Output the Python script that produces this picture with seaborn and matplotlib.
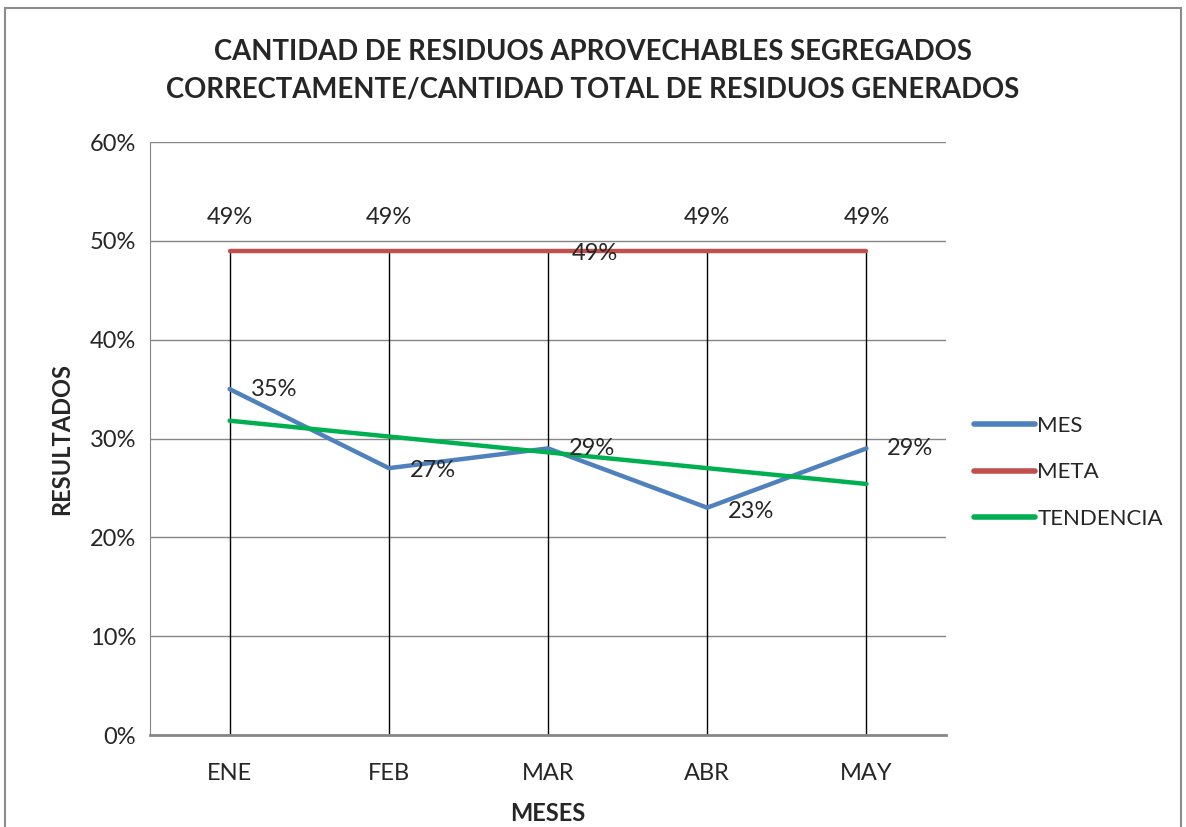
import matplotlib
matplotlib.use("Agg")
import matplotlib.pyplot as plt
import seaborn as sns
import pandas as pd
from matplotlib.patches import Rectangle
from matplotlib.ticker import FuncFormatter

meses = ["ENE", "FEB", "MAR", "ABR", "MAY"]
mes = [0.35, 0.27, 0.29, 0.23, 0.29]
meta = [0.49, 0.49, 0.49, 0.49, 0.49]
tendencia = [0.318, 0.302, 0.286, 0.270, 0.254]
yticks = [0.0, 0.1, 0.2, 0.3, 0.4, 0.5, 0.6]

sns.set_style("white")
plt.rcParams['font.family'] = ['Lato', 'DejaVu Sans']

df = pd.DataFrame({"x": list(range(len(meses))) * 3,
                   "valor": mes + meta + tendencia,
                   "serie": ["MES"] * 5 + ["META"] * 5 + ["TENDENCIA"] * 5})
palette = {"MES": "#4F81BD", "META": "#C0504D", "TENDENCIA": "#00B050"}

FS = 17

fig = plt.figure(figsize=(11.86, 8.27), dpi=100)
ax = fig.add_axes([150 / 1186, 1 - 735 / 827, 796 / 1186, 593 / 827])

# drop lines from META to axis
for i, v in enumerate(meta):
    ax.vlines(i, 0, v, color="black", lw=1.0, zorder=2)

sns.lineplot(data=df, x="x", y="valor", hue="serie", palette=palette,
             lw=3.2, ax=ax, zorder=3, legend=True)

ax.set_xlim(-0.5, len(meses) - 0.5)
ax.set_ylim(0, 0.6)
ax.set_yticks(yticks)
ax.yaxis.set_major_formatter(FuncFormatter(lambda v, p: f"{v*100:.0f}%"))
ax.set_xticks(range(len(meses)))
ax.set_xticklabels(meses)
ax.grid(axis="y", color="#868686", lw=1.0)
ax.set_axisbelow(True)
for s in ["top", "right"]:
    ax.spines[s].set_visible(False)
ax.spines["left"].set_color("#868686")
ax.spines["bottom"].set_color("#868686")
ax.spines["bottom"].set_linewidth(2.0)
ax.tick_params(axis="y", length=7, color="#868686", labelsize=FS, pad=3)
ax.tick_params(axis="x", length=0, labelsize=FS, pad=20)

ax.set_xlabel("MESES", fontsize=FS, fontweight="bold", labelpad=13)
ax.set_ylabel("RESULTADOS", fontsize=FS, fontweight="bold", labelpad=12)

# data labels
for i, v in enumerate(meta):
    if i == 2:
        ax.annotate(f"{v*100:.0f}%", (i, v), xytext=(17, -2), textcoords="offset points",
                    ha="left", va="center", fontsize=FS)
    else:
        ax.annotate(f"{v*100:.0f}%", (i, v), xytext=(0, 24), textcoords="offset points",
                    ha="center", va="center", fontsize=FS)
mes_dy = [0, -2, 0, -3, 0]
for i, v in enumerate(mes):
    ax.annotate(f"{v*100:.0f}%", (i, v), xytext=(15, mes_dy[i]), textcoords="offset points",
                ha="left", va="center", fontsize=FS)

leg = ax.legend(loc="center left", bbox_to_anchor=(1.01, 0.443), frameon=False,
                fontsize=16, handlelength=2.75, handletextpad=0.1, labelspacing=1.2)
for h in leg.get_lines():
    h.set_linewidth(4)

fig.suptitle("CANTIDAD DE RESIDUOS APROVECHABLES SEGREGADOS\nCORRECTAMENTE/CANTIDAD TOTAL DE RESIDUOS GENERADOS",
             x=0.5, y=1 - 39 / 827, va="top", fontsize=19.8, fontweight="bold", linespacing=1.55)

fig.patches.append(Rectangle((5 / 1186, -0.05), 1176 / 1186, 1.05 - 8 / 827,
                             transform=fig.transFigure, fill=False, ec="#8c8c8c", lw=1.5))

fig.savefig("out.png", dpi=100)
